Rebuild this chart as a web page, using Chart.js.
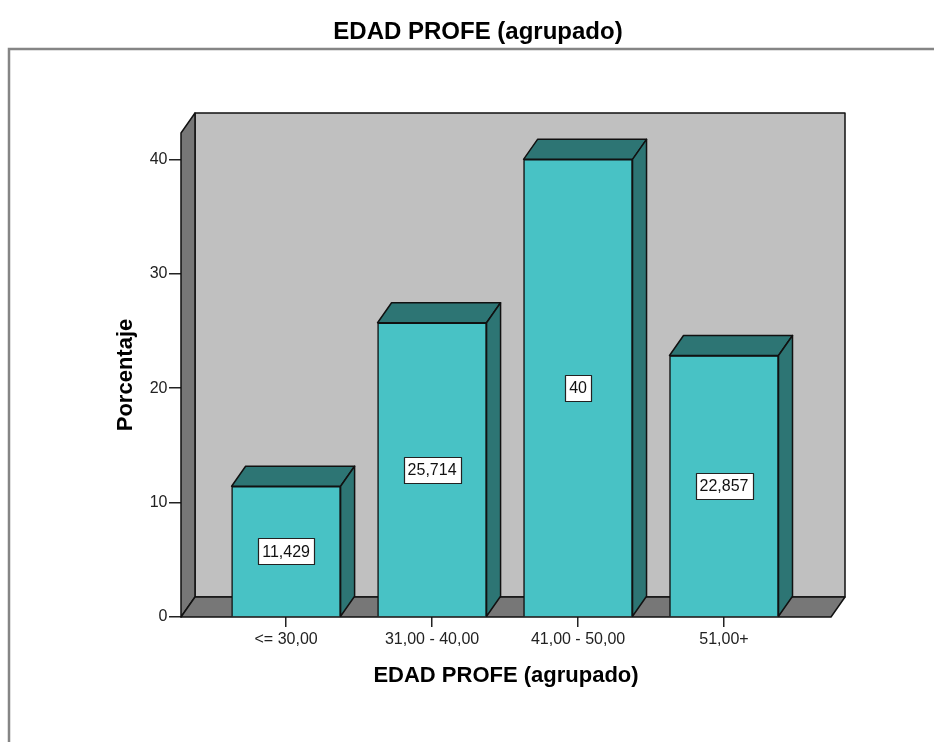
<!DOCTYPE html>
<html>
<head>
<meta charset="utf-8">
<script src="https://cdn.jsdelivr.net/npm/chart.js@4/dist/chart.umd.min.js"></script>
<style>
  html, body { margin: 0; padding: 0; background: #ffffff; }
  canvas { display: block; }
</style>
</head>
<body>
<canvas id="chart" width="934" height="742"></canvas>
<script>
// Age groups of the teachers and the share of each group (%)
const categories = ['<= 30,00', '31,00 - 40,00', '41,00 - 50,00', '51,00+'];
const percentages = [11.429, 25.714, 40, 22.857];
const yTickValues = [0, 10, 20, 30, 40];

const chartTitle = 'EDAD PROFE (agrupado)';
const xAxisTitle = 'EDAD PROFE (agrupado)';
const yAxisTitle = 'Porcentaje';

const FONT = '"Liberation Sans", Arial, Helvetica, sans-serif';
const DEPTH_X = 14;     // 3D depth offset, pixels
const DEPTH_Y = -20;
const WALL = '#c0c0c0';
const WALL_DARK = '#777777';
const BAR_FRONT = '#48c2c5';
const BAR_DARK = '#2d7574';
const EDGE = '#111111';

function poly(ctx, pts, fill) {
  ctx.beginPath();
  ctx.moveTo(pts[0][0], pts[0][1]);
  for (let i = 1; i < pts.length; i++) ctx.lineTo(pts[i][0], pts[i][1]);
  ctx.closePath();
  ctx.fillStyle = fill;
  ctx.fill();
  ctx.stroke();
}

// Decimal comma, as in the Spanish locale
const fmt = v => String(v).replace('.', ',');

// Outer frame and main title
const frameTitle = {
  id: 'frameTitle',
  beforeDraw(chart) {
    const ctx = chart.ctx;
    ctx.save();
    ctx.strokeStyle = '#858585';
    ctx.lineWidth = 2.5;
    ctx.beginPath();
    ctx.moveTo(9, chart.height + 2);
    ctx.lineTo(9, 49);
    ctx.lineTo(chart.width + 2, 49);
    ctx.stroke();
    ctx.fillStyle = '#000';
    ctx.font = 'bold 24px ' + FONT;
    ctx.textAlign = 'center';
    ctx.textBaseline = 'middle';
    ctx.fillText(chartTitle, 478, 32);
    ctx.restore();
  }
};

// Back wall, side wall and floor, then the top and side faces of each bar
const box3d = {
  id: 'box3d',
  beforeDatasetsDraw(chart) {
    const { ctx, chartArea: a } = chart;
    const x0 = a.left, x1 = a.right, yT = a.top, yB = a.bottom;
    const dx = DEPTH_X, dy = DEPTH_Y;
    ctx.save();
    ctx.lineJoin = 'round';
    ctx.lineWidth = 1.5;
    ctx.strokeStyle = EDGE;
    poly(ctx, [[x0 + dx, yT + dy], [x1 + dx, yT + dy], [x1 + dx, yB + dy], [x0 + dx, yB + dy]], WALL);
    poly(ctx, [[x0, yT], [x0 + dx, yT + dy], [x0 + dx, yB + dy], [x0, yB]], WALL_DARK);
    poly(ctx, [[x0, yB], [x0 + dx, yB + dy], [x1 + dx, yB + dy], [x1, yB]], WALL_DARK);
    ctx.restore();
  },
  afterDatasetsDraw(chart) {
    const ctx = chart.ctx;
    const dx = DEPTH_X, dy = DEPTH_Y;
    const meta = chart.getDatasetMeta(0);
    ctx.save();
    ctx.lineJoin = 'round';
    ctx.lineWidth = 1.5;
    ctx.strokeStyle = EDGE;
    meta.data.forEach(bar => {
      const { x, y, base, width } = bar.getProps(['x', 'y', 'base', 'width'], true);
      const l = x - width / 2, r = x + width / 2;
      poly(ctx, [[l, y], [l + dx, y + dy], [r + dx, y + dy], [r, y]], BAR_DARK);
      poly(ctx, [[r, y], [r + dx, y + dy], [r + dx, base + dy], [r, base]], BAR_DARK);
    });
    // value boxes in the middle of each bar
    ctx.font = '16px ' + FONT;
    ctx.textAlign = 'center';
    ctx.textBaseline = 'middle';
    meta.data.forEach((bar, i) => {
      const { x, y, base } = bar.getProps(['x', 'y', 'base'], true);
      const txt = fmt(percentages[i]);
      const w = ctx.measureText(txt).width + 8;
      const h = 26;
      const cy = (y + base) / 2;
      ctx.fillStyle = '#ffffff';
      ctx.strokeStyle = '#222';
      ctx.lineWidth = 1.2;
      ctx.fillRect(Math.round(x - w / 2), Math.round(cy - h / 2), Math.round(w), h);
      ctx.strokeRect(Math.round(x - w / 2) + 0.5, Math.round(cy - h / 2) + 0.5, Math.round(w), h);
      ctx.fillStyle = '#111';
      ctx.fillText(txt, x, cy + 1);
    });
    ctx.restore();
  }
};

new Chart(document.getElementById('chart'), {
  type: 'bar',
  data: {
    datasets: [{
      data: percentages.map((v, i) => ({ x: i, y: v })),
      backgroundColor: BAR_FRONT,
      borderColor: EDGE,
      borderWidth: 1.5,
      barThickness: 109
    }]
  },
  options: {
    responsive: false,
    animation: false,
    events: [],
    layout: { padding: { top: 133, right: 103, left: 0, bottom: 0 } },
    plugins: {
      legend: { display: false },
      tooltip: { enabled: false },
      title: { display: false }
    },
    scales: {
      x: {
        type: 'linear',
        offset: false,
        min: -0.72,
        max: 3.733,
        afterBuildTicks: s => { s.ticks = categories.map((_, i) => ({ value: i })); },
        afterFit: s => { s.height = 125; },
        ticks: {
          autoSkip: false,
          maxRotation: 0,
          padding: 3,
          color: '#222',
          font: { family: FONT, size: 16 },
          callback: v => categories[v] ?? ''
        },
        grid: { offset: false, drawOnChartArea: false, drawTicks: true, tickLength: 10, color: '#222', lineWidth: 1.5 },
        border: { display: false },
        title: {
          display: true,
          text: xAxisTitle,
          color: '#000',
          font: { family: FONT, size: 22, weight: 'bold' },
          padding: { top: 0, bottom: 53 }
        }
      },
      y: {
        min: 0,
        max: 42.3,
        afterBuildTicks: s => { s.ticks = yTickValues.map(v => ({ value: v })); },
        afterFit: s => { s.width = 181; },
        ticks: {
          padding: 1.5,
          color: '#222',
          font: { family: FONT, size: 16 }
        },
        grid: { drawOnChartArea: false, drawTicks: true, tickLength: 12, color: '#222', lineWidth: 1.5 },
        border: { display: false },
        title: {
          display: true,
          text: yAxisTitle,
          color: '#000',
          font: { family: FONT, size: 22, weight: 'bold' },
          padding: { top: 113, bottom: 0 }
        }
      }
    }
  },
  plugins: [frameTitle, box3d]
});
</script>
</body>
</html>
